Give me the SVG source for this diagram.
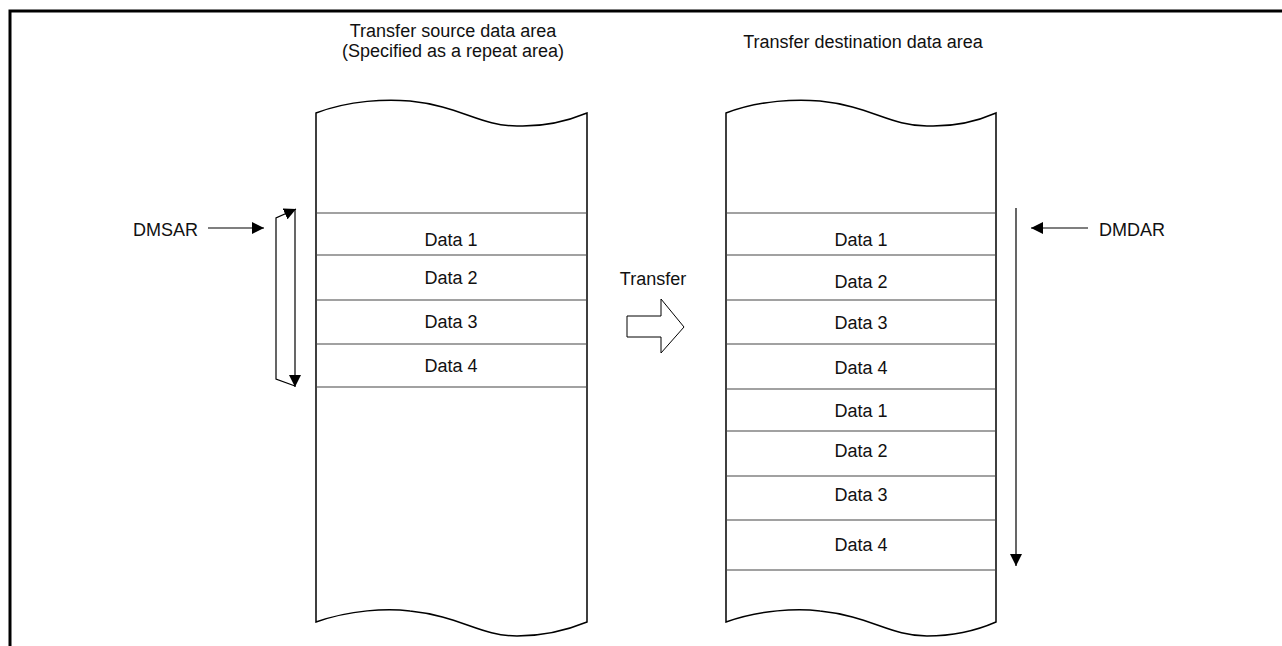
<svg xmlns="http://www.w3.org/2000/svg" width="1282" height="646" viewBox="0 0 1282 646">
<defs>
<style>
text{font-family:"Liberation Sans",Arial,sans-serif;font-size:18px;fill:#111}
.c{text-anchor:middle}
.col{fill:#fff;stroke:#000;stroke-width:1.5}
.row{stroke:#444;stroke-width:1.2;fill:none}
.ln{stroke:#000;stroke-width:1.2;fill:none}
</style>
<marker id="ah" viewBox="0 0 10 10" refX="10" refY="5" markerWidth="12" markerHeight="12" markerUnits="userSpaceOnUse" orient="auto">
<path d="M0,0 L10,5 L0,10 Z" fill="#000"/>
</marker>
</defs>
<rect width="1282" height="646" fill="#fff"/>
<path d="M10,646 V11 H1282" fill="none" stroke="#000" stroke-width="3"/>

<g id="source-area">
<text class="c" x="453" y="37">Transfer source data area</text>
<text class="c" x="453" y="57">(Specified as a repeat area)</text>
<path class="col" d="M316,113 C350,100 387,99 410,101 C460,106 480,126 517,126 C545,127 570,120 587,113 V622 C570,629 545,636 517,636 C480,636 460,616 410,611 C387,608 350,610 316,622 Z"/>
<line class="row" x1="316" y1="213" x2="587" y2="213"/>
<line class="row" x1="316" y1="255" x2="587" y2="255"/>
<line class="row" x1="316" y1="300" x2="587" y2="300"/>
<line class="row" x1="316" y1="344" x2="587" y2="344"/>
<line class="row" x1="316" y1="387" x2="587" y2="387"/>
<text class="c" x="451" y="246">Data 1</text>
<text class="c" x="451" y="284">Data 2</text>
<text class="c" x="451" y="328">Data 3</text>
<text class="c" x="451" y="372">Data 4</text>
</g>

<g id="dest-area">
<text class="c" x="863" y="48">Transfer destination data area</text>
<path class="col" d="M726,113 C760,100 797,99 820,101 C870,106 890,126 927,126 C955,127 980,120 996,113 V622 C980,629 955,636 927,636 C890,636 870,616 820,611 C797,608 760,610 726,622 Z"/>
<line class="row" x1="726" y1="213" x2="996" y2="213"/>
<line class="row" x1="726" y1="255" x2="996" y2="255"/>
<line class="row" x1="726" y1="300" x2="996" y2="300"/>
<line class="row" x1="726" y1="344" x2="996" y2="344"/>
<line class="row" x1="726" y1="389" x2="996" y2="389"/>
<line class="row" x1="726" y1="431" x2="996" y2="431"/>
<line class="row" x1="726" y1="476" x2="996" y2="476"/>
<line class="row" x1="726" y1="520" x2="996" y2="520"/>
<line class="row" x1="726" y1="570" x2="996" y2="570"/>
<text class="c" x="861" y="246">Data 1</text>
<text class="c" x="861" y="288">Data 2</text>
<text class="c" x="861" y="329">Data 3</text>
<text class="c" x="861" y="374">Data 4</text>
<text class="c" x="861" y="417">Data 1</text>
<text class="c" x="861" y="457">Data 2</text>
<text class="c" x="861" y="501">Data 3</text>
<text class="c" x="861" y="551">Data 4</text>
</g>

<g id="dmsar">
<text x="133" y="236">DMSAR</text>
</g>
<g id="dmdar">
<text x="1099" y="236">DMDAR</text>
</g>
<g id="transfer">
<text class="c" x="653" y="285">Transfer</text>
<path d="M627,316 H661 V299 L684,327 L661,353 V337 H627 Z" fill="#fff" stroke="#000" stroke-width="1"/>
</g>

<g id="connectors">
<line class="ln" x1="208" y1="228" x2="264" y2="228" marker-end="url(#ah)"/>
<line class="ln" x1="295" y1="209" x2="295" y2="387" marker-end="url(#ah)"/>
<polyline class="ln" points="295,386 276,379 276,218 296,209" marker-end="url(#ah)"/>
<line class="ln" x1="1088" y1="228" x2="1031" y2="228" marker-end="url(#ah)"/>
<line class="ln" x1="1016" y1="208" x2="1016" y2="566" marker-end="url(#ah)"/>
</g>
</svg>
